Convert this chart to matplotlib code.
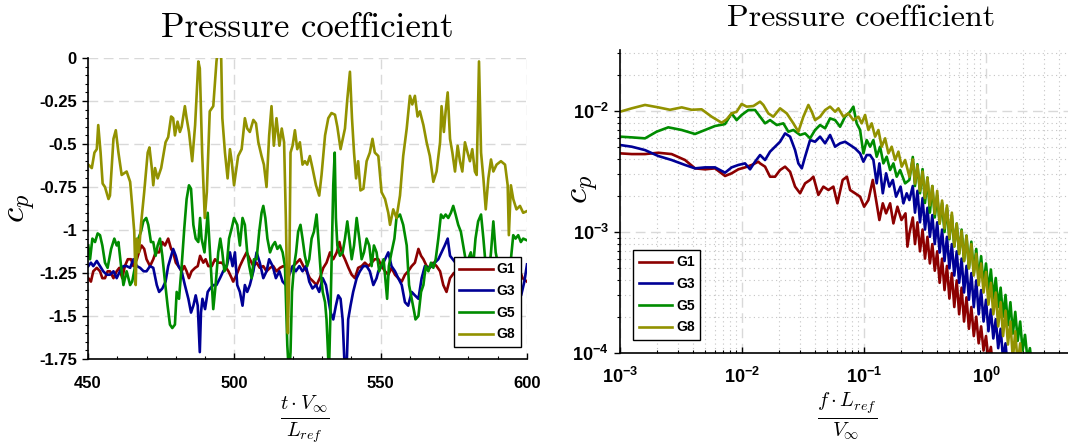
import numpy as np
import matplotlib
matplotlib.use("Agg")
import matplotlib.pyplot as plt
from matplotlib.ticker import MultipleLocator, FixedLocator, FuncFormatter, LogLocator

# ---- time history of cp ----
g1_t = [450.1, 451.0, 451.8, 453.0, 454.1, 454.9, 455.8, 456.7, 457.5, 458.7, 459.8, 460.7, 461.7, 462.6,
        463.6, 464.7, 465.5, 466.7, 467.4, 468.3, 469.2, 470.0, 471.2, 472.3, 473.1, 474.3, 475.4, 476.3,
        477.4, 478.4, 479.1, 480.0, 480.9, 482.0, 482.9, 483.7, 484.5, 485.4, 486.6, 487.5, 488.3, 489.4,
        490.2, 491.1, 492.3, 493.4, 494.5, 495.7, 496.8, 498.0, 499.1, 499.6, 500.8, 501.9, 503.0, 504.2,
        505.3, 506.5, 507.6, 508.7, 509.9, 511.0, 512.2, 513.3, 514.4, 515.6, 516.7, 517.9, 519.0, 520.1,
        521.3, 522.4, 523.6, 524.7, 525.8, 527.0, 528.1, 529.2, 530.4, 531.5, 532.7, 533.8, 535.0, 535.9,
        536.7, 537.8, 539.0, 540.1, 541.2, 542.3, 543.5, 544.6, 545.8, 546.9, 548.0, 549.2, 550.3, 551.5,
        552.6, 553.7, 554.9, 556.0, 557.2, 558.3, 559.4, 560.6, 561.7, 562.9, 563.8, 564.6, 565.7, 566.8,
        568.0, 569.1, 570.3, 571.4, 572.5, 573.7, 575.0, 580.0, 585.0, 590.0, 595.0, 597.2, 598.5, 600.0]
g1_cp = [-1.28, -1.30, -1.24, -1.22, -1.24, -1.28, -1.28, -1.24, -1.24, -1.28, -1.24, -1.22, -1.28, -1.21,
         -1.17, -1.17, -1.21, -1.17, -1.13, -1.09, -1.11, -1.17, -1.21, -1.17, -1.13, -1.13, -1.07, -1.09,
         -1.05, -1.11, -1.13, -1.19, -1.21, -1.24, -1.21, -1.24, -1.28, -1.24, -1.22, -1.21, -1.15, -1.19,
         -1.17, -1.21, -1.21, -1.17, -1.19, -1.19, -1.21, -1.24, -1.28, -1.30, -1.26, -1.21, -1.17, -1.13,
         -1.17, -1.21, -1.19, -1.22, -1.21, -1.24, -1.22, -1.21, -1.24, -1.22, -1.21, -1.22, -1.24, -1.21,
         -1.19, -1.17, -1.21, -1.24, -1.28, -1.30, -1.32, -1.28, -1.22, -1.19, -1.13, -1.17, -1.13, -1.07,
         -1.13, -1.17, -1.22, -1.26, -1.28, -1.22, -1.21, -1.19, -1.21, -1.19, -1.17, -1.17, -1.21, -1.24,
         -1.26, -1.22, -1.26, -1.28, -1.30, -1.26, -1.24, -1.21, -1.19, -1.11, -1.15, -1.17, -1.21, -1.22,
         -1.19, -1.21, -1.24, -1.32, -1.36, -1.28, -1.25, -1.22, -1.20, -1.24, -1.22, -1.22, -1.28, -1.30]

g3_t = [450.1, 451.0, 451.8, 453.0, 454.1, 455.2, 456.4, 457.5, 458.7, 459.8, 460.9, 462.1, 463.2, 464.4,
        465.5, 466.7, 467.8, 469.0, 470.0, 471.2, 472.3, 473.5, 474.3, 475.4, 476.5, 477.4, 478.4, 479.1,
        480.0, 480.9, 482.0, 483.1, 484.3, 485.2, 486.0, 486.8, 487.5, 488.2, 488.6, 489.1, 490.0, 490.9,
        491.7, 492.8, 493.9, 495.1, 496.2, 497.4, 498.5, 499.4, 500.2, 501.0, 501.9, 502.8, 503.6, 504.4,
        505.3, 506.5, 507.6, 508.7, 509.9, 511.0, 511.9, 513.1, 514.2, 515.4, 516.5, 517.6, 518.8, 519.9,
        521.0, 522.2, 523.3, 524.5, 525.6, 526.7, 527.9, 529.0, 530.2, 531.3, 532.1, 532.9, 533.8, 534.7,
        535.5, 536.3, 537.0, 537.7, 538.4, 538.9, 539.7, 540.6, 541.8, 542.9, 544.1, 545.2, 546.3, 547.5,
        548.6, 549.2, 550.3, 551.5, 552.6, 553.7, 554.9, 556.0, 557.2, 558.3, 559.4, 560.6, 561.7, 562.9,
        564.0, 565.1, 566.3, 567.4, 568.5, 569.7, 570.8, 571.9, 572.9, 573.7, 576.0, 580.0, 585.0, 590.0,
        594.0, 598.0, 599.1, 600.0]
g3_cp = [-1.21, -1.19, -1.21, -1.18, -1.21, -1.24, -1.26, -1.26, -1.24, -1.28, -1.24, -1.21, -1.21, -1.22,
         -1.17, -1.21, -1.22, -1.24, -1.24, -1.21, -1.22, -1.32, -1.36, -1.34, -1.30, -1.21, -1.15, -1.11,
         -1.15, -1.21, -1.24, -1.32, -1.40, -1.48, -1.44, -1.38, -1.44, -1.71, -1.48, -1.40, -1.46, -1.36,
         -1.34, -1.32, -1.32, -1.28, -1.24, -1.21, -1.13, -1.21, -1.13, -1.32, -1.36, -1.44, -1.32, -1.36,
         -1.32, -1.24, -1.13, -1.19, -1.28, -1.24, -1.17, -1.21, -1.28, -1.24, -1.30, -1.32, -1.26, -1.21,
         -1.24, -1.21, -1.24, -1.21, -1.30, -1.34, -1.32, -1.36, -1.28, -1.32, -1.40, -1.48, -1.52, -1.44,
         -1.38, -1.40, -1.52, -1.80, -1.78, -1.52, -1.44, -1.36, -1.28, -1.24, -1.21, -1.21, -1.24, -1.32,
         -1.28, -1.24, -1.21, -1.17, -1.13, -1.21, -1.24, -1.28, -1.32, -1.42, -1.44, -1.36, -1.38, -1.40,
         -1.28, -1.21, -1.22, -1.21, -1.19, -1.17, -1.13, -1.09, -1.05, -1.15, -1.20, -1.25, -1.22, -1.30,
         -1.35, -1.38, -1.30, -1.20]

g5_t = [450.1, 450.7, 451.5, 452.4, 453.3, 454.1, 454.9, 455.8, 456.7, 457.9, 459.0, 459.8, 460.4, 461.3,
        462.1, 463.2, 464.4, 465.1, 466.1, 467.2, 468.1, 468.9, 469.9, 470.6, 471.5, 472.3, 473.1, 473.8,
        474.6, 475.4, 476.3, 477.2, 478.0, 478.8, 479.7, 480.3, 481.1, 482.0, 482.9, 483.7, 484.5, 485.2,
        486.0, 486.8, 487.7, 488.3, 488.8, 489.8, 490.9, 492.0, 492.8, 493.6, 494.5, 495.2, 495.9, 496.6,
        497.4, 498.2, 499.1, 499.9, 501.0, 501.9, 502.8, 503.6, 504.4, 505.1, 505.9, 506.7, 507.6, 508.5,
        509.3, 509.9, 510.6, 511.3, 512.2, 513.1, 513.9, 514.7, 515.6, 516.5, 517.3, 518.1, 518.7, 519.2,
        519.7, 520.4, 521.1, 521.8, 522.6, 523.3, 524.1, 524.9, 525.6, 526.4, 527.2, 528.1, 528.7, 529.5,
        530.2, 531.0, 531.5, 532.0, 532.3, 532.9, 533.4, 533.8, 534.3, 534.7, 535.2, 536.1, 537.0, 537.8,
        538.6, 539.3, 540.1, 540.9, 541.8, 542.7, 543.5, 544.3, 545.2, 546.1, 546.9, 547.7, 548.6, 549.5,
        551.0, 552.2, 552.8, 553.7, 554.7, 555.4, 556.6, 557.7, 558.9, 559.7, 560.6, 561.5, 561.9, 562.9,
        563.8, 564.6, 565.4, 566.3, 567.2, 568.0, 568.8, 569.7, 570.6, 571.4, 572.2, 573.1, 574.0, 574.8,
        575.6, 576.5, 577.4, 578.2, 579.0, 579.9, 580.8, 581.6, 582.4, 583.3, 584.3, 585.1, 585.9, 586.8,
        587.7, 588.5, 589.3, 590.2, 591.1, 591.9, 592.7, 593.6, 594.5, 595.3, 596.1, 597.0, 597.9, 598.7,
        600.0]
g5_cp = [-1.09, -1.17, -1.05, -1.07, -1.02, -1.03, -1.09, -1.19, -1.22, -1.11, -1.05, -1.09, -1.07, -1.21,
         -1.32, -1.24, -1.32, -1.30, -1.21, -1.05, -1.01, -0.95, -0.93, -0.97, -1.07, -1.07, -1.15, -1.09,
         -1.05, -1.15, -1.30, -1.44, -1.55, -1.57, -1.55, -1.36, -1.40, -1.21, -0.99, -0.82, -0.74, -0.76,
         -0.97, -1.05, -1.07, -0.93, -1.05, -1.13, -0.90, -1.22, -1.46, -1.32, -1.13, -1.05, -1.13, -1.24,
         -1.21, -1.05, -0.99, -0.93, -0.97, -1.09, -0.93, -0.97, -1.13, -1.21, -1.28, -1.17, -1.17, -1.01,
         -0.90, -0.86, -0.93, -1.05, -1.13, -1.09, -1.07, -1.11, -1.09, -1.13, -1.21, -1.67, -1.85, -1.71,
         -1.36, -1.21, -1.13, -1.01, -0.97, -1.05, -1.15, -1.21, -1.17, -1.05, -1.01, -0.91, -1.05, -1.24,
         -1.36, -1.42, -1.52, -1.71, -1.85, -1.44, -1.05, -0.74, -0.55, -0.93, -1.09, -1.15, -1.13, -1.05,
         -0.95, -1.05, -1.17, -1.09, -0.93, -1.05, -1.17, -1.13, -1.05, -1.09, -1.21, -1.09, -1.13, -1.24,
         -1.17, -1.40, -1.21, -1.13, -1.05, -0.93, -0.91, -0.97, -1.09, -1.32, -1.40, -1.48, -1.52, -1.50,
         -1.36, -1.32, -1.21, -1.24, -1.19, -1.22, -1.17, -1.05, -0.91, -0.93, -0.91, -0.93, -0.90, -0.86,
         -0.91, -0.97, -1.01, -1.09, -1.17, -1.17, -1.13, -1.21, -1.05, -0.95, -0.91, -1.05, -1.21, -1.28,
         -1.13, -0.95, -1.13, -1.21, -1.17, -1.28, -1.32, -1.21, -1.17, -1.03, -1.05, -1.03, -1.07, -1.05,
         -1.06]

g8_t = [450.1, 451.3, 452.2, 453.0, 453.5, 454.3, 455.0, 455.8, 457.0, 457.5, 458.7, 459.5, 460.4, 461.5,
        463.2, 464.4, 465.1, 465.8, 466.3, 466.7, 467.4, 468.1, 469.2, 470.4, 471.0, 471.8, 472.3, 472.9,
        473.8, 475.0, 475.7, 476.5, 477.4, 478.4, 479.1, 479.7, 480.6, 481.4, 482.0, 483.1, 483.7, 484.5,
        485.6, 486.6, 487.7, 488.2, 489.0, 489.9, 490.6, 491.6, 492.8, 493.9, 494.7, 495.4, 495.9, 496.8,
        497.7, 498.5, 499.1, 499.9, 501.3, 502.5, 503.6, 504.4, 505.3, 506.5, 507.4, 508.2, 509.3, 510.1,
        511.0, 511.9, 512.7, 513.5, 514.4, 515.4, 516.2, 517.0, 517.6, 518.3, 518.8, 519.2, 519.9, 520.7,
        521.5, 522.4, 523.3, 524.1, 524.9, 525.8, 526.7, 527.9, 529.0, 529.8, 531.0, 532.1, 533.2, 534.4,
        535.2, 536.3, 537.8, 538.6, 539.5, 540.2, 540.9, 541.6, 542.3, 543.1, 544.1, 545.2, 546.3, 547.2,
        548.0, 549.2, 550.3, 551.5, 552.6, 553.2, 554.3, 555.4, 556.6, 557.7, 558.9, 560.0, 560.8, 561.7,
        562.6, 563.4, 564.6, 565.7, 566.8, 568.0, 569.1, 570.3, 570.8, 571.6, 572.2, 572.9, 573.7, 574.5,
        575.4, 576.3, 577.1, 577.9, 578.8, 579.7, 580.5, 581.3, 582.2, 582.8, 583.6, 584.3, 585.1, 585.9,
        586.8, 587.7, 588.5, 589.6, 591.1, 592.5, 593.4, 593.8, 594.5, 595.3, 596.4, 597.6, 598.7, 600.0]
g8_cp = [-0.62, -0.64, -0.55, -0.53, -0.39, -0.55, -0.73, -0.75, -0.82, -0.80, -0.47, -0.42, -0.55, -0.68,
         -0.66, -0.72, -0.86, -1.01, -1.32, -1.05, -1.13, -0.97, -0.78, -0.55, -0.52, -0.64, -0.74, -0.64,
         -0.70, -0.64, -0.57, -0.49, -0.46, -0.34, -0.35, -0.45, -0.37, -0.43, -0.40, -0.28, -0.35, -0.43,
         -0.60, -0.39, -0.02, -0.06, -0.55, -0.93, -0.78, -0.31, -0.28, -0.02, 0.10, 0.10, -0.35, -0.55,
         -0.70, -0.53, -0.60, -0.74, -0.57, -0.53, -0.35, -0.41, -0.43, -0.36, -0.38, -0.49, -0.57, -0.62,
         -0.75, -0.45, -0.28, -0.51, -0.35, -0.51, -0.41, -0.49, -0.93, -1.60, -1.22, -0.55, -0.51, -0.42,
         -0.53, -0.49, -0.62, -0.60, -0.62, -0.57, -0.64, -0.74, -0.80, -0.68, -0.45, -0.35, -0.32, -0.33,
         -0.40, -0.53, -0.41, -0.24, -0.08, -0.35, -0.55, -0.70, -0.60, -0.77, -0.76, -0.60, -0.55, -0.47,
         -0.55, -0.57, -0.78, -0.82, -0.90, -0.97, -0.88, -0.93, -0.80, -0.57, -0.41, -0.22, -0.27, -0.22,
         -0.34, -0.31, -0.39, -0.49, -0.57, -0.72, -0.66, -0.49, -0.28, -0.43, -0.31, -0.20, -0.47, -0.55,
         -0.66, -0.51, -0.60, -0.66, -0.49, -0.55, -0.60, -0.53, -0.66, -0.68, -0.02, -0.55, -0.70, -0.88,
         -0.70, -0.59, -0.66, -0.62, -0.60, -0.62, -0.74, -1.03, -0.74, -0.82, -0.88, -0.86, -0.90, -0.89]

# ---- spectra, stored as log10(f) and log10(cp) ----
g1_logf = [-3.0, -2.904, -2.795, -2.686, -2.577, -2.467, -2.385, -2.303, -2.221, -2.139, -2.085, -2.03,
           -1.975, -1.92, -1.866, -1.852, -1.811, -1.77, -1.729, -1.688, -1.647, -1.606, -1.565, -1.524,
           -1.483, -1.442, -1.415, -1.374, -1.333, -1.292, -1.251, -1.218, -1.175, -1.14, -1.114, -1.073,
           -1.032, -0.999, -0.964, -0.928, -0.901, -0.874, -0.846, -0.819, -0.786, -0.759, -0.726, -0.693,
           -0.66, -0.644, -0.628, -0.600, -0.582, -0.562, -0.541, -0.520, -0.500, -0.480, -0.460, -0.440,
           -0.420, -0.400, -0.380, -0.360, -0.340, -0.320, -0.300, -0.280, -0.260, -0.240, -0.220, -0.200,
           -0.180, -0.160, -0.140, -0.120, -0.100, -0.080, -0.060, -0.040, -0.020, 0.000, 0.020, 0.040, 0.060]
g1_logcp = [-2.35, -2.356, -2.356, -2.345, -2.356, -2.405, -2.474, -2.482, -2.474, -2.537, -2.515, -2.482,
            -2.466, -2.446, -2.419, -2.433, -2.46, -2.543, -2.543, -2.488, -2.46, -2.502, -2.625, -2.68,
            -2.598, -2.57, -2.543, -2.694, -2.625, -2.653, -2.625, -2.763, -2.57, -2.543, -2.653, -2.68,
            -2.708, -2.791, -2.736, -2.57, -2.736, -2.901, -2.763, -2.846, -2.763, -2.929, -2.791, -2.901,
            -2.846, -3.121, -3.011, -2.88, -3.10, -2.92, -3.16, -2.98, -3.22, -3.04, -3.26, -3.10,
            -3.32, -3.16, -3.42, -3.22, -3.48, -3.28, -3.55, -3.34, -3.62, -3.40, -3.68, -3.46,
            -3.74, -3.54, -3.80, -3.62, -3.86, -3.70, -3.92, -3.78, -3.98, -3.86, -4.05, -3.95, -4.15]

g3_logf = [-3.0, -2.904, -2.795, -2.686, -2.577, -2.467, -2.385, -2.303, -2.221, -2.139, -2.085, -2.03,
           -1.975, -1.934, -1.893, -1.852, -1.811, -1.77, -1.729, -1.688, -1.647, -1.606, -1.565, -1.538,
           -1.51, -1.483, -1.442, -1.401, -1.36, -1.319, -1.278, -1.237, -1.196, -1.155, -1.114, -1.073,
           -1.032, -1.005, -0.978, -0.95, -0.923, -0.896, -0.874, -0.846, -0.819, -0.792, -0.764, -0.737,
           -0.70, -0.677, -0.65, -0.628, -0.600, -0.582, -0.562, -0.541, -0.520, -0.500, -0.480, -0.460,
           -0.440, -0.420, -0.400, -0.380, -0.360, -0.340, -0.320, -0.300, -0.280, -0.260, -0.240, -0.220,
           -0.200, -0.180, -0.160, -0.140, -0.120, -0.100, -0.080, -0.060, -0.040, -0.020, 0.000, 0.020,
           0.040, 0.060, 0.080, 0.100, 0.120, 0.140, 0.160, 0.180]
g3_logcp = [-2.281, -2.295, -2.323, -2.372, -2.405, -2.446, -2.474, -2.466, -2.466, -2.51, -2.466, -2.446,
            -2.433, -2.482, -2.419, -2.364, -2.405, -2.336, -2.295, -2.254, -2.185, -2.212, -2.323, -2.433,
            -2.474, -2.378, -2.24, -2.254, -2.212, -2.267, -2.198, -2.295, -2.267, -2.254, -2.281, -2.309,
            -2.35, -2.419, -2.364, -2.364, -2.405, -2.598, -2.433, -2.68, -2.515, -2.625, -2.57, -2.708,
            -2.625, -2.763, -2.68, -2.736, -2.62, -2.84, -2.66, -2.92, -2.72, -2.98, -2.80, -3.04,
            -2.86, -3.10, -2.92, -3.17, -2.98, -3.24, -3.04, -3.30, -3.10, -3.36, -3.16, -3.42,
            -3.22, -3.50, -3.28, -3.56, -3.34, -3.62, -3.40, -3.68, -3.48, -3.74, -3.56, -3.82,
            -3.64, -3.88, -3.72, -3.96, -3.80, -4.05, -3.92, -4.15]

g5_logf = [-3.0, -2.904, -2.795, -2.7, -2.604, -2.494, -2.385, -2.303, -2.221, -2.139, -2.085, -2.044,
           -2.003, -1.948, -1.893, -1.852, -1.811, -1.77, -1.715, -1.661, -1.62, -1.579, -1.524, -1.483,
           -1.442, -1.401, -1.36, -1.319, -1.278, -1.237, -1.196, -1.155, -1.114, -1.087, -1.06, -1.032,
           -1.005, -0.978, -0.95, -0.923, -0.896, -0.868, -0.841, -0.814, -0.786, -0.759, -0.732, -0.704,
           -0.663, -0.628, -0.600, -0.582, -0.562, -0.541, -0.520, -0.500, -0.480, -0.460, -0.440, -0.420,
           -0.400, -0.380, -0.360, -0.340, -0.320, -0.300, -0.280, -0.260, -0.240, -0.220, -0.200, -0.180,
           -0.160, -0.140, -0.120, -0.100, -0.080, -0.060, -0.040, -0.020, 0.000, 0.020, 0.040, 0.060,
           0.080, 0.100, 0.120, 0.140, 0.160, 0.180, 0.200, 0.220, 0.240, 0.260, 0.280, 0.300, 0.320,
           0.340, 0.360, 0.380]
g5_logcp = [-2.212, -2.218, -2.226, -2.171, -2.135, -2.157, -2.19, -2.157, -2.124, -2.108, -2.02, -2.075,
            -2.033, -1.992, -1.992, -2.047, -2.102, -2.075, -2.116, -2.102, -2.171, -2.157, -2.198, -2.185,
            -2.226, -2.157, -2.116, -2.143, -2.061, -2.075, -2.13, -2.047, -2.006, -1.964, -2.102, -2.157,
            -2.35, -2.24, -2.295, -2.24, -2.378, -2.295, -2.433, -2.378, -2.488, -2.433, -2.543, -2.488,
            -2.598, -2.57, -2.38, -2.62, -2.44, -2.68, -2.48, -2.76, -2.55, -2.84, -2.62, -2.88,
            -2.70, -2.93, -2.76, -3.00, -2.80, -3.06, -2.86, -3.12, -2.93, -3.18, -2.98, -3.24,
            -3.03, -3.30, -3.08, -3.34, -3.14, -3.39, -3.20, -3.44, -3.26, -3.49, -3.31, -3.55,
            -3.38, -3.62, -3.46, -3.70, -3.52, -3.77, -3.58, -3.84, -3.66, -3.90, -3.74, -3.98, -3.85,
            -4.05, -3.96, -4.15]

g8_logf = [-3.0, -2.904, -2.795, -2.686, -2.59, -2.494, -2.413, -2.331, -2.249, -2.167, -2.126, -2.085,
           -2.044, -2.003, -1.962, -1.907, -1.852, -1.825, -1.784, -1.743, -1.688, -1.633, -1.579, -1.538,
           -1.497, -1.456, -1.428, -1.401, -1.36, -1.319, -1.278, -1.237, -1.21, -1.169, -1.128, -1.087,
           -1.046, -1.019, -0.991, -0.964, -0.937, -0.909, -0.882, -0.855, -0.827, -0.8, -0.773, -0.745,
           -0.718, -0.691, -0.663, -0.628, -0.600, -0.582, -0.562, -0.541, -0.520, -0.500, -0.480, -0.460,
           -0.440, -0.420, -0.400, -0.380, -0.360, -0.340, -0.320, -0.300, -0.280, -0.260, -0.240, -0.220,
           -0.200, -0.180, -0.160, -0.140, -0.120, -0.100, -0.080, -0.060, -0.040, -0.020, 0.000, 0.020,
           0.040, 0.060, 0.080, 0.100, 0.120, 0.140, 0.160, 0.180, 0.200, 0.220, 0.240, 0.260, 0.280,
           0.300, 0.320]
g8_logcp = [-2.006, -1.978, -1.95, -1.97, -1.99, -1.97, -1.99, -1.986, -2.047, -2.097, -2.069, -2.02,
            -2.006, -1.942, -1.964, -1.959, -1.923, -1.95, -2.02, -2.047, -1.978, -2.02, -2.102, -2.171,
            -2.047, -1.95, -2.006, -2.075, -2.047, -1.992, -1.964, -2.006, -1.978, -2.047, -2.02, -2.075,
            -2.047, -2.102, -2.033, -2.157, -2.102, -2.212, -2.157, -2.295, -2.226, -2.35, -2.295, -2.405,
            -2.336, -2.46, -2.405, -2.543, -2.40, -2.60, -2.45, -2.66, -2.50, -2.72, -2.55, -2.78,
            -2.62, -2.85, -2.66, -2.93, -2.74, -2.97, -2.78, -3.05, -2.84, -3.12, -2.93, -3.18,
            -2.99, -3.24, -3.03, -3.30, -3.10, -3.36, -3.18, -3.44, -3.26, -3.50, -3.33, -3.60,
            -3.42, -3.68, -3.50, -3.78, -3.58, -3.86, -3.65, -3.93, -3.74, -4.05, -3.82, -4.10, -3.92,
            -4.20, -4.10]

labels = ["G1", "G3", "G5", "G8"]
colors = ["#8c0000", "#000096", "#008c00", "#929200"]

cp_ticks = [0, -0.25, -0.5, -0.75, -1, -1.25, -1.5, -1.75]
cp_ticklabels = ["0", "-0.25", "-0.5", "-0.75", "-1", "-1.25", "-1.5", "-1.75"]
t_ticks = [450, 500, 550, 600]

# fonts: sans bold ticks, computer modern for math
plt.rcParams["font.family"] = ["Liberation Sans", "DejaVu Sans"]
plt.rcParams["mathtext.fontset"] = "custom"
plt.rcParams["mathtext.rm"] = "cmr10"
plt.rcParams["mathtext.it"] = "cmmi10"
plt.rcParams["mathtext.bf"] = "Liberation Sans:bold"
plt.rcParams["mathtext.fallback"] = "cm"

fig = plt.figure(figsize=(10.68, 4.46), dpi=100)
W, H = 1068.0, 446.0
ax1 = fig.add_axes([88 / W, 1 - 359 / H, 439 / W, 301 / H])
ax2 = fig.add_axes([620 / W, 1 - 353 / H, 455 / W, 303 / H])

tick_font = dict(fontsize=12, fontweight="bold")
leg_kw = dict(borderaxespad=0, prop=dict(weight="bold", size=10), handlelength=2.4,
              handletextpad=0.3, labelspacing=0.55, borderpad=0.4, fancybox=False, framealpha=1)

# ---- left: time history ----
for t, cp, lab, col in zip([g1_t, g3_t, g5_t, g8_t], [g1_cp, g3_cp, g5_cp, g8_cp], labels, colors):
    ax1.plot(t, cp, color=col, lw=1.9, label=lab)

ax1.set_xlim(450, 600)
ax1.set_ylim(-1.75, 0)
ax1.xaxis.set_major_locator(FixedLocator(t_ticks))
ax1.xaxis.set_minor_locator(MultipleLocator(10))
ax1.yaxis.set_major_locator(FixedLocator(cp_ticks))
ax1.yaxis.set_minor_locator(MultipleLocator(0.05))
ax1.set_yticklabels(cp_ticklabels, **tick_font)
ax1.set_xticklabels([str(v) for v in t_ticks], **tick_font)
ax1.tick_params(axis="x", which="both", direction="in", pad=12)
ax1.tick_params(axis="y", which="both", direction="out", pad=4)
ax1.tick_params(which="major", length=4, width=1)
ax1.tick_params(which="minor", length=2, width=0.8)
ax1.grid(True, which="major", color="#d9d9d9", lw=1.0, ls=(0, (7, 4)))
ax1.set_axisbelow(True)
for s in ["top", "right"]:
    ax1.spines[s].set_visible(False)
for s in ["left", "bottom"]:
    ax1.spines[s].set_linewidth(1.2)

ax1.set_ylabel(r"$c_p$", fontsize=25, rotation=90)
ax1.yaxis.set_label_coords(-0.115, 0.5)
ax1.set_xlabel(r"$\frac{t\cdot V_\infty}{L_{ref}}$", fontsize=21)
ax1.xaxis.set_label_coords(0.494, -0.115)

leg1 = ax1.legend(loc="lower right", bbox_to_anchor=(0.986, 0.04), **leg_kw)
leg1.get_frame().set_edgecolor("black")
leg1.get_frame().set_linewidth(1.0)

# ---- right: spectrum ----
for lf, lc, lab, col in zip([g1_logf, g3_logf, g5_logf, g8_logf], [g1_logcp, g3_logcp, g5_logcp, g8_logcp],
                            labels, colors):
    ax2.plot(10 ** np.array(lf), 10 ** np.array(lc), color=col, lw=1.9, label=lab)

ax2.set_xscale("log")
ax2.set_yscale("log")
ax2.set_xlim(1e-3, 10 ** (-3 + 455 / 122))
ax2.set_ylim(1e-4, 10 ** (-4 + 303 / 121))
ax2.xaxis.set_major_locator(LogLocator(base=10, numticks=10))
ax2.yaxis.set_major_locator(LogLocator(base=10, numticks=10))
ax2.xaxis.set_minor_locator(LogLocator(base=10, subs=np.arange(2, 10), numticks=20))
ax2.yaxis.set_minor_locator(LogLocator(base=10, subs=np.arange(2, 10), numticks=20))
pow_fmt = FuncFormatter(lambda v, p: r"$\mathbf{10^{%d}}$" % int(round(np.log10(v))))
ax2.xaxis.set_major_formatter(pow_fmt)
ax2.yaxis.set_major_formatter(pow_fmt)
ax2.xaxis.set_minor_formatter(FuncFormatter(lambda v, p: ""))
ax2.yaxis.set_minor_formatter(FuncFormatter(lambda v, p: ""))
ax2.tick_params(labelsize=13)
ax2.tick_params(axis="x", which="both", direction="in", pad=10)
ax2.tick_params(axis="y", which="both", direction="out", pad=4)
ax2.tick_params(which="major", length=4, width=1)
ax2.tick_params(which="minor", length=2, width=0.8)
ax2.grid(True, which="major", color="#d9d9d9", lw=1.0, ls=(0, (7, 4)))
ax2.grid(True, which="minor", color="#c4c4c4", lw=0.8, ls=(0, (1, 3)))
ax2.set_axisbelow(True)
for s in ["top", "right"]:
    ax2.spines[s].set_visible(False)
for s in ["left", "bottom"]:
    ax2.spines[s].set_linewidth(1.2)

ax2.set_ylabel(r"$c_p$", fontsize=25, rotation=90)
ax2.yaxis.set_label_coords(-0.042, 0.54)
ax2.set_xlabel(r"$\frac{f\cdot L_{ref}}{V_\infty}$", fontsize=21)
ax2.xaxis.set_label_coords(0.50, -0.125)

leg2 = ax2.legend(loc="lower left", bbox_to_anchor=(0.029, 0.043), **leg_kw)
leg2.get_frame().set_edgecolor("black")
leg2.get_frame().set_linewidth(1.0)

# titles in computer modern
fig.text(307 / W, 1 - 28 / H, "Pressure coefficient", fontfamily="cmr10", fontsize=25,
         ha="center", va="center")
fig.text(861 / W, 1 - 18 / H, "Pressure coefficient", fontfamily="cmr10", fontsize=23,
         ha="center", va="center")

fig.savefig("out.png", dpi=100)
